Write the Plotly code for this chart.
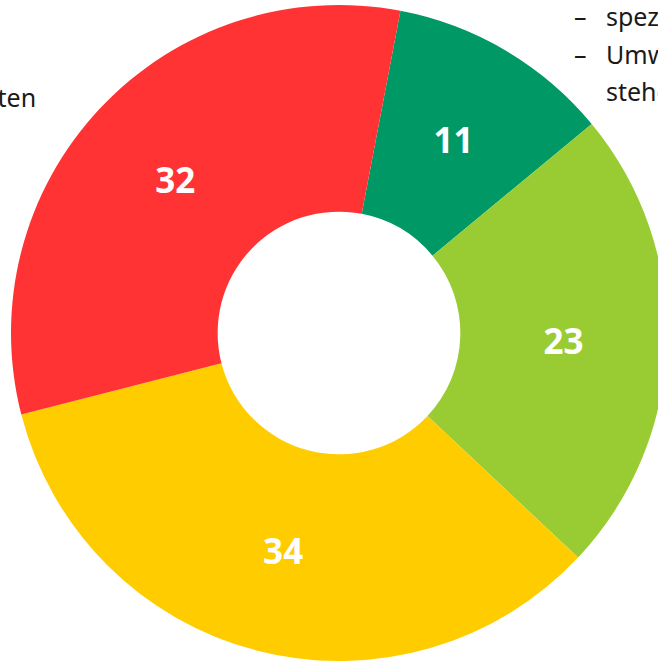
"""Donut chart with cut-off side texts."""

from plotly import graph_objects as go

W, H = 676, 661

labels = ["A", "B", "C", "D"]
values = [11, 23, 34, 32]
colors = ["rgb(0,153,102)", "rgb(153,204,51)", "rgb(255,204,0)", "rgb(255,51,51)"]
value_text = [str(v) for v in values]

left_text = "Kosten"
right_lines = ["spezifische", "Umwelt", "stehen"]
right_dash = ["–", "–", ""]

label_font = dict(family="Noto Sans", size=35, color="white", weight="bold")
common = dict(
    labels=labels,
    values=values,
    textinfo="text",
    textposition="inside",
    insidetextorientation="horizontal",
    textfont=label_font,
    sort=False,
    direction="clockwise",
    rotation=10.8,
    hoverinfo="skip",
)

fig = go.Figure()
# main ring (label of the narrow slice drawn by the overlay below)
fig.add_trace(
    go.Pie(
        text=[""] + value_text[1:],
        marker=dict(colors=colors, line=dict(width=0)),
        hole=0.37,
        domain=dict(x=[11 / W, 667 / W], y=[0, (H - 5) / H]),
        **common,
    )
)
# transparent overlay, smaller radius, to put the narrow slice label mid-ring
fig.add_trace(
    go.Pie(
        text=value_text[:1] + [""] * 3,
        marker=dict(colors=["rgba(0,0,0,0)"] * 4, line=dict(width=0)),
        domain=dict(x=[38 / W, 640 / W], y=[1 - 634 / H, 1 - 32 / H]),
        **common,
    )
)

font = dict(family="Noto Sans", size=25, color="#1a1a1a")
fig.add_annotation(x=38 / W, y=1 - 97 / H, text=left_text, xanchor="right",
                   yanchor="middle", showarrow=False, font=font)
# right column, partially outside the window
for i, (dash, line) in enumerate(zip(right_dash, right_lines)):
    y = 1 - (16 + 37.5 * i) / H
    if dash:
        fig.add_annotation(x=572 / W, y=y, text=dash, xanchor="left",
                           yanchor="middle", showarrow=False, font=font)
    fig.add_annotation(x=604 / W, y=y, text=line, xanchor="left",
                       yanchor="middle", showarrow=False, font=font)

fig.update_layout(
    width=W,
    height=H,
    margin=dict(l=0, r=0, t=0, b=0),
    showlegend=False,
    paper_bgcolor="white",
    plot_bgcolor="white",
)

fig.write_html(
    "out.html",
    config={"displayModeBar": False},
    post_script="document.body.style.margin='0';document.body.style.overflow='hidden';",
)
